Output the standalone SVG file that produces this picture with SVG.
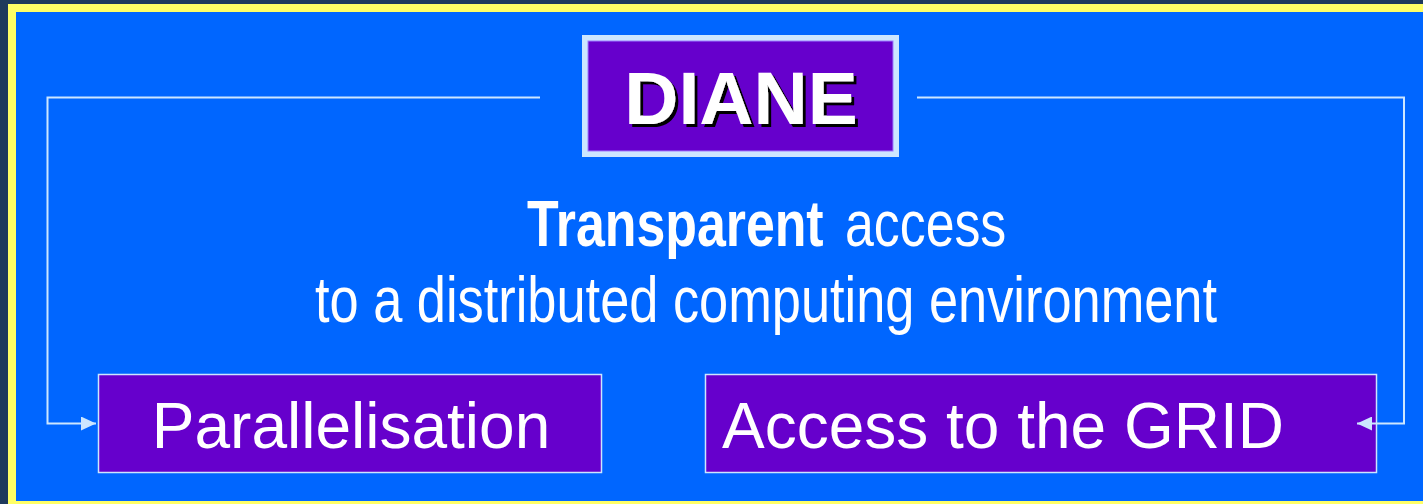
<svg xmlns="http://www.w3.org/2000/svg" width="1423" height="504" viewBox="0 0 1423 504">
  <defs>
    <style>
      .conn { fill: none; stroke: #CCE6FF; stroke-width: 2; }
      .box { fill: #6600CC; stroke: #CCE6FF; stroke-width: 1.5; }
      .label { font-family: "Liberation Sans", Arial, sans-serif; font-size: 64px; fill: #FFFFFF; }
      .narrow { font-family: "Liberation Sans", Arial, sans-serif; font-size: 64px; fill: #FFFFFF; }
      .title { font-family: "Liberation Sans", Arial, sans-serif; font-size: 75px; font-weight: bold; fill: #FFFFFF; }
    </style>
    <filter id="shadow" x="-10%" y="-10%" width="130%" height="130%">
      <feDropShadow dx="3" dy="3" stdDeviation="0" flood-color="#000000" flood-opacity="1"/>
    </filter>
    <marker id="arrow" viewBox="0 0 15 14" refX="15" refY="7" markerWidth="15" markerHeight="14" markerUnits="userSpaceOnUse" orient="auto">
      <path d="M0,0 L15,7 L0,14 Z" fill="#CCE6FF"/>
    </marker>
  </defs>

  <!-- frame -->
  <rect x="0" y="0" width="1423" height="504" fill="#1F3A5C"/>
  <rect x="8" y="4" width="1415" height="500" fill="#FFFF66"/>
  <rect x="16" y="12" width="1407" height="489" fill="#0066FF"/>

  <g id="diane">
    <rect x="582" y="35" width="317" height="122" fill="#CCE6FF"/>
    <rect x="588" y="41" width="305" height="110" fill="#6600CC" stroke="#9C7CFF" stroke-width="1"/>
    <text class="title" x="741" y="124" text-anchor="middle" filter="url(#shadow)">DIANE</text>
  </g>

  <g id="description">
    <text class="narrow" y="246" transform="scale(0.81,1)"><tspan x="650.6" font-weight="bold">Transparent</tspan><tspan x="1043.2">access</tspan></text>
    <text class="narrow" x="315" y="322" textLength="902" lengthAdjust="spacingAndGlyphs">to a distributed computing environment</text>
  </g>

  <g id="parallelisation">
    <rect class="box" x="98.5" y="374.5" width="503" height="98"/>
    <text class="label" x="351" y="448" text-anchor="middle">Parallelisation</text>
  </g>

  <g id="grid">
    <rect class="box" x="705.5" y="374.5" width="671" height="98"/>
    <text class="label" x="722" y="448">Access to the GRID</text>
  </g>

  <g id="connectors">
    <path class="conn" d="M540,97.5 H47.5 V423.5 H96" marker-end="url(#arrow)"/>
    <path class="conn" d="M917,97.5 H1404 V423.5 H1357" marker-end="url(#arrow)"/>
  </g>
</svg>
